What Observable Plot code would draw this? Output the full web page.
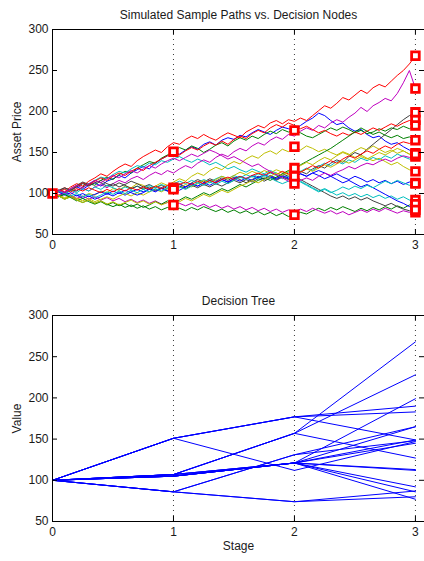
<!DOCTYPE html>
<html><head><meta charset="utf-8">
<script src="https://cdn.jsdelivr.net/npm/d3@7"></script>
<script src="https://cdn.jsdelivr.net/npm/@observablehq/plot@0.6"></script>
<style>
html,body{margin:0;padding:0;background:#fff;overflow:hidden;}
#chart{width:424px;height:561px;}
#chart svg{display:block;}
</style></head><body><div id="chart"></div>
<script>
// ---------- data ----------
const stageTicks = [0, 1, 2, 3];
const valueTicks = [50, 100, 150, 200, 250, 300];
const rootValue = 100;

// decision tree scenarios (root -> stage1 -> stage2 -> stage3)
const stage1Values = [151, 151, 151, 151, 107, 107, 107, 107, 107, 107, 105, 105, 105, 105, 105, 105, 86, 86, 86, 86];
const stage2Values = [177, 177, 177, 112, 157, 157, 157, 121, 121, 121, 121, 121, 121, 121, 121, 121, 131, 131, 74, 74];
const stage3Values = [190, 183, 149, 147, 268, 228, 127, 199, 165, 149, 145, 113, 112, 92, 86, 77, 165, 148, 87, 80];

// simulated sample paths (values on a fine time grid from stage 0 to stage 3)
const samplePaths = [
  [100,103,99,104,108,105,110,113,109,115,118,122,119,125,129,133,130,137,142,146,150, 148,153,157,154,160,163,159,165,168,166,171,169,174,178,175,172,177,181,179,177, 183,188,192,198,195,189,184,186,180,176,178,172,168,170,164,160,162,157,153,149],
  [100,97,101,105,103,108,112,110,116,120,117,123,127,125,131,135,139,137,143,147,152, 156,153,158,155,150,154,159,162,158,164,168,165,170,167,172,176,173,178,175,177, 174,170,168,172,176,180,177,181,178,174,177,173,175,179,176,180,178,182,179,183],
  [100,104,102,108,112,109,115,119,124,121,127,132,136,133,140,145,149,153,150,157,162, 160,166,170,167,172,168,165,170,174,171,168,175,179,183,180,186,189,185,190,188, 192,189,195,201,207,204,210,217,214,220,226,222,229,233,230,237,244,250,258,268],
  [100,102,106,104,109,113,111,116,120,118,123,127,125,130,134,132,137,135,140,138,142, 145,141,138,142,139,135,138,134,130,133,129,126,130,127,124,128,125,122,126,123, 127,131,128,133,137,134,139,136,141,138,143,140,144,141,146,143,148,145,142,145],
  [100,98,102,99,104,107,103,108,111,107,112,116,113,118,121,117,122,126,123,128,125, 130,134,131,137,141,138,144,148,145,151,155,152,158,162,159,165,169,166,172,170, 176,180,177,183,180,186,190,187,193,198,205,200,207,211,216,213,222,235,250,228],
  [100,97,94,97,93,96,100,98,103,101,106,104,109,107,112,110,106,109,113,110,114, 118,115,121,125,122,128,132,129,135,139,136,142,146,143,149,152,148,154,151,156, 153,158,155,151,154,150,147,151,148,144,147,143,140,143,139,135,138,133,129,127],
  [100,104,101,106,110,114,111,116,113,109,112,108,111,115,112,108,111,107,110,106,109, 112,108,113,117,114,118,115,119,116,120,117,113,117,121,118,122,119,124,121,123, 127,124,130,134,131,137,141,138,145,150,147,154,160,166,172,178,184,190,195,198],
  [100,96,99,95,98,94,97,93,96,100,97,101,98,102,105,102,106,103,107,104,108, 111,108,112,109,113,116,113,117,114,118,121,118,122,119,123,120,117,121,118,120, 124,121,125,128,125,121,124,120,117,121,118,114,117,113,116,112,115,111,114,112],
  [100,97,93,96,92,89,92,88,91,87,84,87,83,86,82,85,81,84,80,83,80, 82,79,83,80,84,81,78,81,77,80,76,79,75,78,74,77,73,76,72,74, 77,75,79,82,79,83,80,84,81,78,82,79,83,80,84,81,85,82,86,87],
  [100,103,107,104,109,113,110,115,119,116,121,125,122,127,131,128,134,138,142,146,150, 147,152,156,153,158,162,159,164,160,166,170,167,173,177,174,180,184,181,186,183, 179,182,178,174,177,173,170,174,171,175,172,176,180,177,181,185,182,186,189,190],
  [100,103,99,104,101,106,103,108,105,110,107,104,108,105,109,106,110,107,111,108,112, 115,112,116,113,117,114,118,121,118,122,119,123,120,124,121,125,122,118,121,119, 115,111,107,103,106,102,98,101,97,100,96,99,95,98,94,97,93,96,92,93],
  [100,98,101,97,94,97,93,96,92,95,91,94,90,93,89,92,88,91,87,89,86, 88,85,88,84,87,83,86,82,85,81,84,80,83,79,82,78,81,77,80,78, 81,78,82,79,76,79,75,78,74,77,80,77,81,78,82,79,76,79,77,80],
  [100,98,95,98,94,91,94,90,93,96,93,97,100,97,101,98,102,105,102,106,104, 107,111,108,112,116,113,117,121,118,122,126,123,127,124,128,125,129,126,123,122, 126,130,127,131,135,132,136,140,137,141,145,142,146,150,147,151,155,152,148,149],
  [100,104,107,104,108,112,109,113,116,112,109,113,110,106,109,105,108,104,107,103,106, 109,106,110,107,111,108,112,109,113,116,113,117,114,118,115,119,116,120,117,121, 117,113,109,105,101,97,94,97,93,96,92,95,91,88,85,88,84,81,79,77],
  [100,102,98,101,97,100,96,99,102,99,103,100,104,101,98,101,105,102,106,103,107, 104,108,112,109,113,110,114,117,114,118,115,119,116,120,117,121,118,122,119,121, 124,121,125,122,118,121,117,113,116,112,108,111,107,103,99,95,91,88,84,86],
  [100,96,99,95,91,94,90,87,90,86,89,85,88,84,87,83,86,90,87,91,88, 92,96,93,97,101,98,102,106,103,107,111,108,112,116,119,116,120,124,128,131, 135,139,143,147,151,155,160,165,170,175,180,176,172,175,171,168,171,167,169,165],
  [100,102,105,102,106,103,107,104,101,105,102,106,103,107,104,108,105,109,106,110,107, 111,114,111,115,112,116,113,117,120,117,121,118,122,125,122,126,123,127,124,122, 126,130,134,131,136,140,137,142,146,143,148,152,149,154,158,155,160,163,161,165],
  [100,103,100,97,100,96,99,95,98,102,99,103,100,104,101,105,102,106,103,107,105, 108,105,109,113,110,114,111,115,112,116,120,117,121,118,122,119,115,112,115,118, 114,110,106,102,105,101,104,108,105,109,106,110,107,111,115,112,116,113,110,113],
  [100,104,101,106,110,107,112,116,113,118,122,119,124,128,125,130,134,131,136,140,143, 140,144,148,145,149,153,150,146,142,145,141,137,133,136,131,127,123,119,115,113, 116,119,116,121,125,122,126,129,133,130,134,137,135,139,142,139,143,146,144,147],
  [100,97,93,96,92,89,92,88,91,87,90,86,89,92,88,91,87,90,86,89,87, 90,94,91,95,99,96,100,104,101,105,109,112,116,113,117,121,125,122,127,130, 134,138,135,140,144,141,146,150,147,152,156,153,158,154,150,153,149,152,148,148]
];

// MATLAB default line colour order
const lineColors = ["#0000ff", "#008000", "#ff0000", "#00bfbf", "#bf00bf", "#bfbf00", "#404040"];

// ---------- derived tables ----------
const treeRows = [];
stage1Values.forEach((v1, i) => {
  [rootValue, v1, stage2Values[i], stage3Values[i]].forEach((v, s) =>
    treeRows.push({scenario: i, stage: stageTicks[s], value: v}));
});
const nodeRows = [];
const seen = new Set();
for (const r of treeRows) {
  const key = r.stage + ":" + r.value;
  if (!seen.has(key)) { seen.add(key); nodeRows.push({stage: r.stage, value: r.value}); }
}

// ---------- layout ----------
const W = 424, ML = 52, MR = 0, TICK = 5;
const xDomain = [0, 3.075];
const yDomain = [50, 300];
const textStyle = {fontFamily: "'Liberation Sans', Arial, Helvetica, sans-serif", fontSize: "12px", color: "#1a1a1a", background: "white", overflow: "visible"};

function panel({height, marginTop, marginBottom, title, titleDy, ylabel, xlabel, marks}) {
  const plotW = W - ML - MR;
  const plotH = height - marginTop - marginBottom;
  const extra = [];
  if (xlabel) extra.push(Plot.text([xlabel], {frameAnchor: "bottom", dy: 25, textAnchor: "middle", lineAnchor: "middle"}));
  return Plot.plot({
    width: W, height, marginLeft: ML, marginRight: MR, marginTop, marginBottom,
    style: textStyle,
    x: {domain: xDomain},
    y: {domain: yDomain},
    marks: [
      Plot.ruleX(stageTicks.slice(1), {x: d => d, stroke: "#3a3a3a", strokeDasharray: "1,4", strokeWidth: 1}),
      ...marks,
      Plot.ruleY([yDomain[0], yDomain[1]], {y: d => d, stroke: "#000"}),
      Plot.ruleX([xDomain[0]], {x: d => d, stroke: "#000"}),
      Plot.tickY(valueTicks, {y: d => d, insetRight: plotW - TICK, stroke: "#000"}),
      Plot.tickY(valueTicks, {y: d => d, insetLeft: plotW - TICK, stroke: "#000"}),
      Plot.tickX(stageTicks, {x: d => d, insetTop: plotH - TICK, stroke: "#000"}),
      Plot.tickX(stageTicks, {x: d => d, insetBottom: plotH - TICK, stroke: "#000"}),
      Plot.axisX({ticks: stageTicks, tickFormat: d => String(d), tickSize: 0, tickPadding: 6, label: null}),
      Plot.axisY({ticks: valueTicks, tickFormat: d => String(d), tickSize: 0, tickPadding: 4, label: null}),
      Plot.text([title], {frameAnchor: "top", dy: titleDy, textAnchor: "middle", lineAnchor: "middle"}),
      Plot.text([ylabel], {frameAnchor: "left", dx: -35, rotate: -90, textAnchor: "middle", lineAnchor: "middle"}),
      ...extra
    ]
  });
}

const topPanel = panel({
  height: 287, marginTop: 29, marginBottom: 53,
  title: "Simulated Sample Paths vs. Decision Nodes", titleDy: -14.5,
  ylabel: "Asset Price",
  marks: [
    ...samplePaths.map((p, i) => Plot.line(p, {
      x: (d, j) => j * 3 / (p.length - 1), y: d => d,
      stroke: lineColors[i % lineColors.length], strokeWidth: 1
    })),
    Plot.dot(nodeRows, {x: "stage", y: "value", symbol: "square", r: 4.3, stroke: "#ff0000", strokeWidth: 2.8, fill: "white"})
  ]
});

const bottomPanel = panel({
  height: 274, marginTop: 28, marginBottom: 40,
  title: "Decision Tree", titleDy: -14,
  ylabel: "Value", xlabel: "Stage",
  marks: [
    Plot.line(treeRows, {x: "stage", y: "value", z: "scenario", stroke: "#0000ff", strokeWidth: 1})
  ]
});

const chart = document.getElementById("chart");
chart.appendChild(topPanel);
chart.appendChild(bottomPanel);
</script>
</body></html>
